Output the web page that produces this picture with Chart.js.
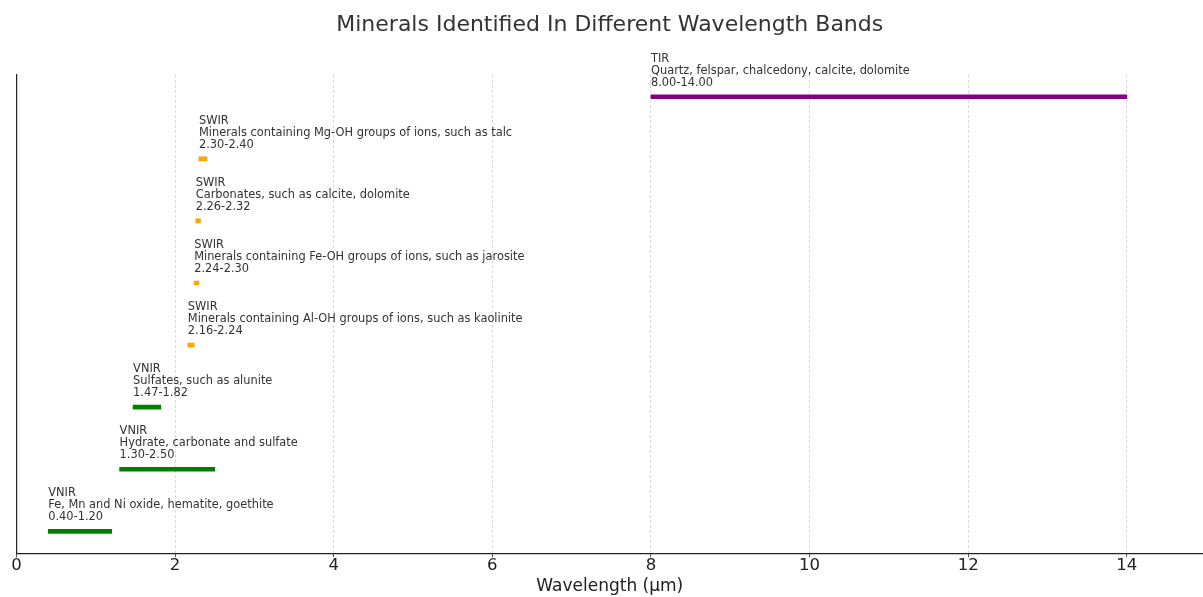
<!DOCTYPE html>
<html>
<head>
<meta charset="utf-8">
<script src="https://cdn.jsdelivr.net/npm/chart.js@4.4.1/dist/chart.umd.min.js"></script>
<style>
  html, body { margin: 0; padding: 0; background: #fff; }
  #wrap { width: 1203px; height: 597px; }
</style>
</head>
<body>
<div id="wrap"><canvas id="chart"></canvas></div>
<script>
// Wavelength bands, bottom to top
const bands = ['VNIR', 'VNIR', 'VNIR', 'SWIR', 'SWIR', 'SWIR', 'SWIR', 'TIR'];
const minerals = [
  'Fe, Mn and Ni oxide, hematite, goethite',
  'Hydrate, carbonate and sulfate',
  'Sulfates, such as alunite',
  'Minerals containing Al-OH groups of ions, such as kaolinite',
  'Minerals containing Fe-OH groups of ions, such as jarosite',
  'Carbonates, such as calcite, dolomite',
  'Minerals containing Mg-OH groups of ions, such as talc',
  'Quartz, felspar, chalcedony, calcite, dolomite'
];
const starts = [0.40, 1.30, 1.47, 2.16, 2.24, 2.26, 2.30, 8.00];
const ends = [1.20, 2.50, 1.82, 2.24, 2.30, 2.32, 2.40, 14.00];
const xTicks = [0, 2, 4, 6, 8, 10, 12, 14];

const bandColors = { VNIR: '#008000', SWIR: '#ffa500', TIR: '#800080' };

const FONT = 'DejaVu Sans, sans-serif';

// text above each bar: band / minerals / range
const bandLabels = {
  id: 'bandLabels',
  afterDatasetsDraw(chart) {
    const { ctx, scales: { x, y } } = chart;
    ctx.save();
    ctx.font = '11.4px ' + FONT;
    ctx.fillStyle = '#333';
    ctx.textAlign = 'left';
    ctx.textBaseline = 'middle';
    bands.forEach((b, i) => {
      const px = x.getPixelForValue(starts[i]);
      const py = y.getPixelForValue(i);
      ctx.fillText(b, px, py - 38);
      ctx.fillText(minerals[i], px, py - 26);
      ctx.fillText(starts[i].toFixed(2) + '-' + ends[i].toFixed(2), px, py - 14);
    });
    ctx.restore();
  }
};

new Chart(document.getElementById('chart'), {
  type: 'bar',
  data: {
    datasets: [{
      data: bands.map((b, i) => ({ x: [starts[i], ends[i]], y: i })),
      backgroundColor: bands.map(b => bandColors[b]),
      borderWidth: 0,
      barThickness: 4
    }]
  },
  options: {
    indexAxis: 'y',
    responsive: true,
    maintainAspectRatio: false,
    animation: false,
    layout: { padding: { left: 16.5, right: 0, top: 0, bottom: 0 } },
    plugins: {
      legend: { display: false },
      tooltip: { enabled: false },
      title: {
        display: true,
        text: 'Minerals Identified In Different Wavelength Bands',
        color: '#333',
        font: { family: FONT, size: 22, weight: 'normal' },
        padding: { top: 12, bottom: 36.6 }
      }
    },
    scales: {
      x: {
        type: 'linear',
        min: 0,
        max: 14.96,
        afterBuildTicks: s => { s.ticks = xTicks.map(v => ({ value: v })); },
        ticks: {
          color: '#222',
          padding: 0,
          font: { family: FONT, size: 16.5, lineHeight: 1 }
        },
        grid: {
          color: '#d0d0d0',
          lineWidth: 0.8,
          tickLength: 4,
          tickColor: '#222'
        },
        border: { display: true, color: '#222', width: 1.2, dash: [3, 2] },
        title: {
          display: true,
          text: 'Wavelength (μm)',
          color: '#222',
          font: { family: FONT, size: 17 },
          padding: { top: 3, bottom: 0 }
        }
      },
      y: {
        type: 'linear',
        offset: false,
        min: -0.35,
        max: 7.35,
        ticks: { display: false },
        grid: { display: false, drawTicks: false },
        border: { display: true, color: '#222', width: 1.2 }
      }
    }
  },
  plugins: [bandLabels]
});
</script>
</body>
</html>
